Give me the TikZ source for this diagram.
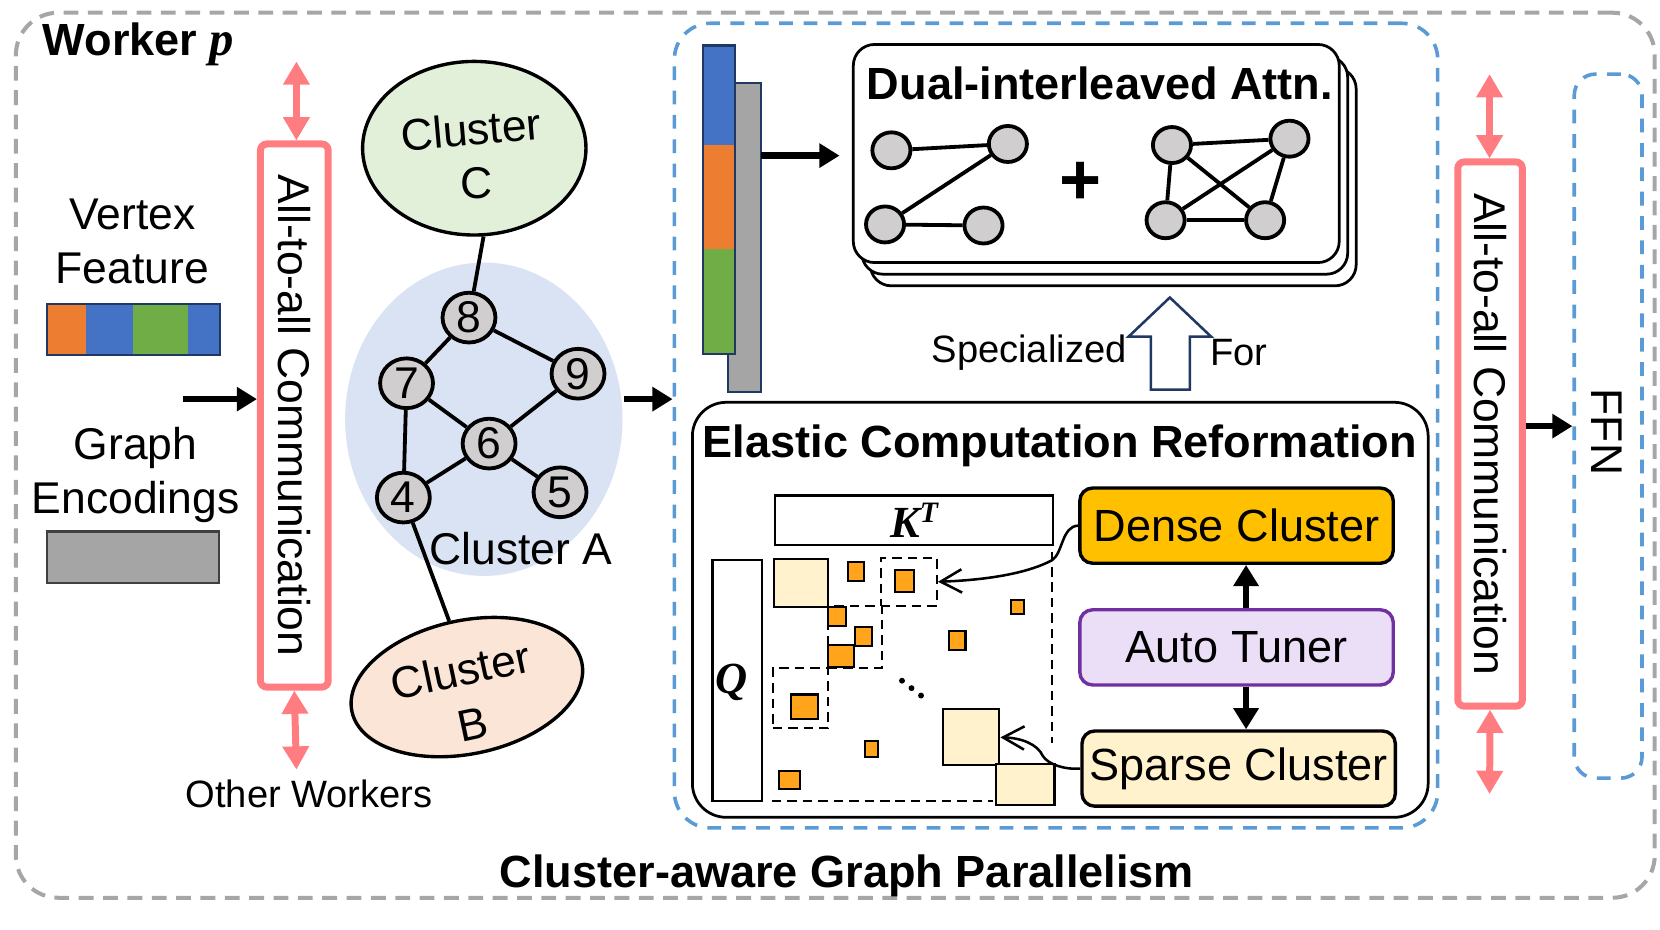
\documentclass[tikz,border=0pt]{standalone}
\usepackage{fontspec}
\setmainfont{Liberation Sans}
\newfontfamily\serifbi{Liberation Serif}
\usetikzlibrary{arrows.meta,shapes.geometric,calc}
\definecolor{graydash}{HTML}{A6A6A6}
\definecolor{bluedash}{HTML}{5B9BD5}
\definecolor{pinkc}{HTML}{FF7C80}
\definecolor{navy}{HTML}{203864}
\definecolor{barblue}{HTML}{4472C4}
\definecolor{barorange}{HTML}{ED7D31}
\definecolor{bargreen}{HTML}{70AD47}
\definecolor{bargray}{HTML}{A5A5A5}
\definecolor{nodegray}{HTML}{D0CECE}
\definecolor{clC}{HTML}{E2F0D9}
\definecolor{clA}{HTML}{DAE3F3}
\definecolor{clB}{HTML}{FBE5D6}
\definecolor{densec}{HTML}{FFC000}
\definecolor{sparsec}{HTML}{FFF2CC}
\definecolor{tunerc}{HTML}{EBDEF7}
\definecolor{purplec}{HTML}{7030A0}
\definecolor{sqorange}{HTML}{FFA41B}
\definecolor{encborder}{HTML}{404040}
\begin{document}
\begin{tikzpicture}[x=0.5pt,y=-0.5pt,
  txt/.style={font=\fontsize{21}{25.5}\selectfont, inner sep=0pt, align=center},
  smalltxt/.style={font=\fontsize{18}{22}\selectfont, inner sep=0pt},
  ttl/.style={font=\fontsize{21.3}{25}\selectfont\bfseries, inner sep=0pt},
  graybox/.style={draw=graydash, line width=1.9pt, dash pattern=on 7pt off 4.5pt, rounded corners=20pt, inner sep=0pt},
  bluebox/.style={draw=bluedash, line width=1.7pt, dash pattern=on 6.5pt off 5pt, inner sep=0pt},
  pinkbox/.style={draw=pinkc, line width=3.3pt, rounded corners=3pt, fill=white, inner sep=0pt},
  pinkarr/.style={draw=pinkc, line width=3.3pt, {Triangle[width=12pt,length=11pt]}-{Triangle[width=12pt,length=11pt]}},
  blkarr/.style={draw=black, line width=3pt, -{Triangle[width=11pt,length=9.5pt]}},
  dblk/.style={draw=black, line width=3.2pt, -{Triangle[width=11.5pt,length=10pt]}},
  vnode/.style={ellipse, draw, line width=1.8pt, fill=nodegray, inner sep=0pt, minimum width=25pt, minimum height=23.5pt, font=\fontsize{21}{21}\selectfont},
  gnode/.style={ellipse, draw, line width=1.8pt, fill=nodegray, inner sep=0pt, minimum width=18pt, minimum height=17pt},
  lnk/.style={line width=1.8pt},
  cbox/.style={rectangle, draw, line width=1.6pt, rounded corners=6pt, inner sep=0pt, minimum width=148pt, minimum height=35.5pt, font=\fontsize{21.3}{25}\selectfont},
  lsq/.style={draw, line width=1pt, fill=sparsec},
  osq/.style={draw, line width=1pt, fill=sqorange},
  dbox/.style={draw, line width=1pt, dash pattern=on 4.5pt off 2.8pt, inner sep=0pt},
  barb/.style={line width=1.2pt, -{Straight Barb[length=10pt,width=11pt]}},
]
\useasboundingbox (0,0) rectangle (1568,878);

% outer worker box
\node[graybox, minimum width=774pt, minimum height=418pt] (worker) at (789,430) {};
\node[ttl, anchor=west] (wl) at (40,42) {Worker {\serifbi\bfseries\itshape\fontsize{23}{23}\selectfont p}};

% left column
\node[txt] (vf) at (125,228) {Vertex\\Feature};
\fill[barorange] (44,287) rectangle (81,335);
\fill[barblue] (81,287) rectangle (126,335);
\fill[bargreen] (126,287) rectangle (178,335);
\fill[barblue] (178,287) rectangle (208,335);
\draw[navy, line width=1pt] (44,287) rectangle (208,335);
\node[txt] (ge) at (128,449) {Graph\\Encodings};
\draw[fill=bargray, draw=encborder, line width=1pt] (44,502) rectangle (207,551);

% left all-to-all
\node[pinkbox, minimum width=32pt, minimum height=256.5pt] (a2aL) at (278,392.5) {};
\node[txt, rotate=-90] at (a2aL.center) {All-to-all Communication};
\coordinate (inS) at (173,377);
\draw[blkarr] (inS) -- (inS -| a2aL.west);
\coordinate (topL) at (280,58);
\draw[pinkarr] (topL) -- (topL |- a2aL.north);
\coordinate (botL) at (280,727);
\draw[pinkarr] (a2aL.south) -- (botL);
\node[smalltxt] (ow) at (292,750) {Other Workers};

% clusters
\node[ellipse, fill=clA, minimum width=131pt, minimum height=148pt, inner sep=0pt] (cA) at (457,396) {};
\node[ellipse, draw, line width=1.6pt, fill=clC, minimum width=105.5pt, minimum height=82pt, inner sep=0pt] (cC) at (448,140) {};
\node[txt, rotate=5] at (445,122) {Cluster};
\node[txt] at (450,173) {C};
\node[ellipse, draw, line width=1.6pt, fill=clB, minimum width=111pt, minimum height=63pt, inner sep=0pt, rotate=12] (cB) at (441,649) {};
\node[txt, rotate=12] at (435,633) {Cluster};
\node[txt, rotate=12] at (447,684) {B};

\node[vnode] (n8) at (443,300) {8};
\node[vnode] (n7) at (384,362) {7};
\node[vnode] (n9) at (546,353) {9};
\node[vnode] (n6) at (462,419) {6};
\node[vnode] (n4) at (381,470) {4};
\node[vnode] (n5) at (529,465) {5};
\draw[lnk] (cC.-84) -- (n8);
\draw[lnk] (n8) -- (n7);
\draw[lnk] (n8) -- (n9);
\draw[lnk] (n7) -- (n6);
\draw[lnk] (n7) -- (n4);
\draw[lnk] (n9) -- (n6);
\draw[lnk] (n6) -- (n4);
\draw[lnk] (n6) -- (n5);
\draw[lnk] (n4) -- (cB.93);
\node[txt] (cAl) at (492,518) {Cluster A};

% middle dashed box
\node[bluebox, rounded corners=17pt, minimum width=360.5pt, minimum height=380pt] (mid) at (997.5,402) {};
\coordinate (aS) at (589,377);
\draw[blkarr] (aS) -- (aS -| mid.west);

% stacked bars
\draw[fill=bargray, draw=navy, line width=1pt] (688,78) rectangle (719,370);
\fill[barblue] (664,43) rectangle (694,137);
\fill[barorange] (664,137) rectangle (694,235);
\fill[bargreen] (664,235) rectangle (694,334);
\draw[navy, line width=1pt] (664,43) rectangle (694,334);

% dual-interleaved attention stack
\draw[line width=1.3pt, fill=white, rounded corners=10pt] (822,64) rectangle (1281,270);
\draw[line width=1.3pt, fill=white, rounded corners=10pt] (814,53) rectangle (1273,259);
\node[draw, line width=1.3pt, fill=white, rounded corners=10pt, minimum width=229.5pt, minimum height=103pt, inner sep=0pt] (dual) at (1035.5,145) {};
\node[ttl] at (1039,79) {Dual-interleaved Attn.};
\coordinate (bS) at (719,147);
\coordinate (bE) at (793,147);
\draw[blkarr] (bS) -- (bE);

\node[gnode] (l1) at (842,142) {};
\node[gnode] (l2) at (952,136) {};
\node[gnode] (l3) at (836,212) {};
\node[gnode] (l4) at (929,213) {};
\draw[lnk] (l1) -- (l2);
\draw[lnk] (l2) -- (l3);
\draw[lnk] (l3) -- (l4);
\node[font=\fontsize{34}{34}\selectfont\bfseries, inner sep=0pt] at (1021,173) {+};
\node[gnode] (r1) at (1107,137) {};
\node[gnode] (r2) at (1218,131) {};
\node[gnode] (r3) at (1101,208) {};
\node[gnode] (r4) at (1195,208) {};
\draw[lnk] (r1) -- (r2);
\draw[lnk] (r1) -- (r3);
\draw[lnk] (r1) -- (r4);
\draw[lnk] (r2) -- (r3);
\draw[lnk] (r2) -- (r4);
\draw[lnk] (r3) -- (r4);

% hollow arrow
\draw[navy, line width=1.2pt, fill=white] (1087,368) -- (1087,318) -- (1066,318) -- (1105,281) -- (1144,318) -- (1124,318) -- (1124,368) -- cycle;
\node[smalltxt] at (972,333) {Specialized};
\node[smalltxt] at (1170,333) {For};

% elastic computation reformation
\node[draw, line width=1.3pt, rounded corners=16pt, minimum width=347.5pt, minimum height=196pt, inner sep=0pt] (ecr) at (1001.5,576) {};
\node[ttl] at (1001,421) {Elastic Computation Reformation};

\node[draw, line width=1pt, minimum width=131.5pt, minimum height=23.5pt, inner sep=0pt] (kt) at (863.5,491.5) {\serifbi\fontsize{21}{21}\selectfont\bfseries\itshape K\raisebox{7pt}{\fontsize{14}{14}\selectfont T}};
\node[draw, line width=1pt, minimum width=23.5pt, minimum height=114pt, inner sep=0pt] (qb) at (696.5,643) {};
\node[inner sep=0pt] at (691,645) {\serifbi\fontsize{21}{21}\selectfont\bfseries\itshape Q};

\draw[dbox] (994,521) -- (994,702);
\draw[dbox] (729,757) -- (938,757);
\node[dbox, minimum width=26.5pt, minimum height=22.5pt] (db1) at (858.5,549.5) {};
\node[dbox, minimum width=25.5pt, minimum height=29.5pt] (db2) at (807.5,601.5) {};
\node[dbox, minimum width=26pt, minimum height=28.5pt] (db3) at (756,659.5) {};

\draw[lsq] (731,528) rectangle (782,573);
\draw[osq] (801,531) rectangle (816,549);
\draw[osq] (845,538) rectangle (863,559);
\draw[osq] (782,573) rectangle (799,591);
\draw[osq] (808,592) rectangle (824,610);
\draw[osq] (782,609) rectangle (807,630);
\draw[osq] (747,656) rectangle (773,679);
\draw[osq] (955,567) rectangle (967,580);
\draw[osq] (896,596) rectangle (912,614);
\draw[osq] (817,700) rectangle (829,715);
\draw[osq] (736,728) rectangle (756,745);
\node[lsq, minimum width=26.5pt, minimum height=26.5pt, inner sep=0pt] (ls2) at (917.5,696.5) {};
\draw[lsq] (941,722) rectangle (996,760);
\fill (852,643) circle[radius=1.4pt];
\fill (861,650) circle[radius=1.4pt];
\fill (870,657) circle[radius=1.4pt];

\node[cbox, fill=densec] (dense) at (1168,496.5) {Dense Cluster};
\node[cbox, fill=tunerc, draw=purplec] (tuner) at (1168,611.5) {Auto Tuner};
\node[cbox, fill=sparsec] (sparse) at (1170,726) {Sparse Cluster};
\draw[dblk] ([xshift=4.5pt]tuner.north) -- ([xshift=4.5pt]dense.south);
\draw[dblk] ([xshift=4.5pt]tuner.south) -- ([xshift=4.5pt]tuner.south |- sparse.north);

\draw[barb] (dense.west) .. controls (1003,497) and (1004,522) .. (994,529) .. controls (970,542) and (930,548) .. (db1.east);
\draw[barb] (sparse.west) .. controls (1005,727) and (990,722) .. (985,714) .. controls (980,703) and (965,697) .. (ls2.east);

% right all-to-all
\node[pinkbox, minimum width=30.5pt, minimum height=257pt] (a2aR) at (1407.5,410) {};
\node[txt, rotate=-90] at (a2aR.center) {All-to-all Communication};
\coordinate (topR) at (1407,70);
\draw[pinkarr] (topR) -- (topR |- a2aR.north);
\coordinate (botR) at (1407,750);
\draw[pinkarr] (a2aR.south) -- (botR);

% FFN
\node[bluebox, rounded corners=10pt, minimum width=32pt, minimum height=332.5pt] (ffn) at (1519,402.5) {};
\node[txt, rotate=-90] at (1518,408) {FFN};
\draw[blkarr] (a2aR.east |- ffn.west) -- (ffn.west);

\node[ttl] at (800,827) {Cluster-aware Graph Parallelism};
\end{tikzpicture}
\end{document}
